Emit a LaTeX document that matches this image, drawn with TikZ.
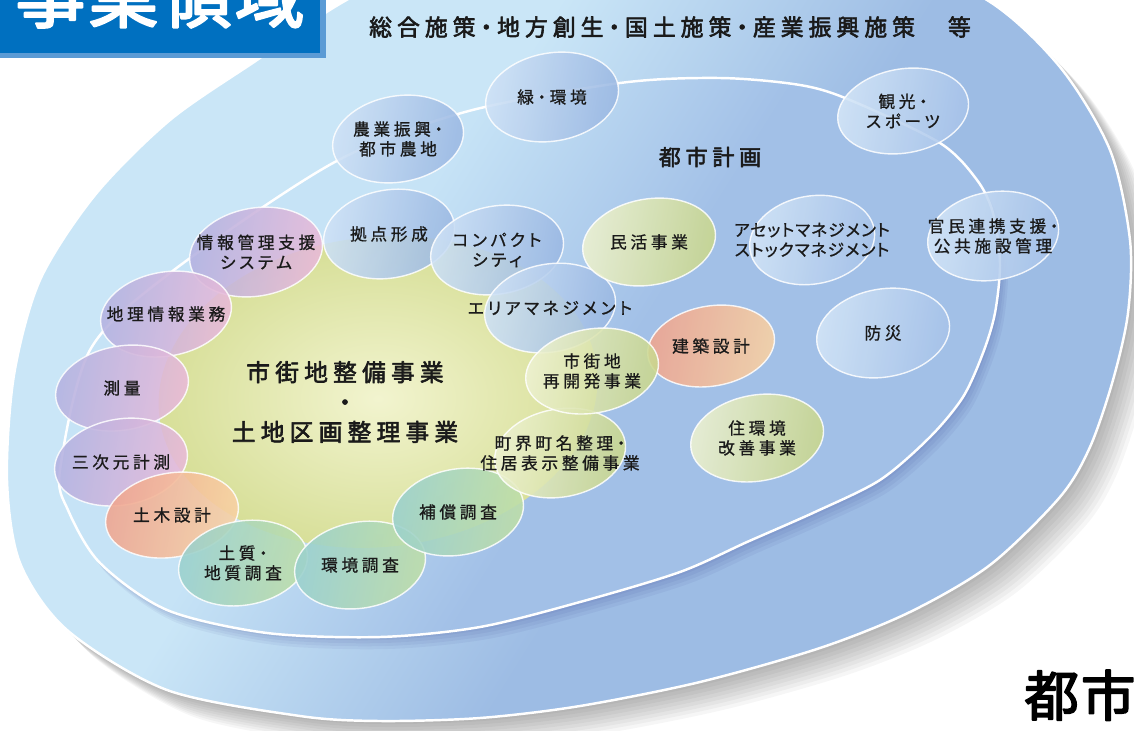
\documentclass[tikz,border=0pt]{standalone}
\usepackage{fontspec}
\newfontfamily\jpfont[LetterSpace=22,RawFeature=+palt,FakeBold=0.9]{Noto Sans CJK JP}
\newfontfamily\jptight[LetterSpace=6,RawFeature=+palt,FakeBold=0.9]{Noto Sans CJK JP}
\newfontfamily\jpbold[LetterSpace=22,RawFeature=+palt,AutoFakeBold=2.5]{Noto Sans CJK JP}
\newfontfamily\jphead[LetterSpace=4,AutoFakeBold=3]{Noto Sans CJK JP}
\definecolor{ringL}{HTML}{CAE6F7}
\definecolor{ringR}{HTML}{9DBCE4}
\definecolor{cityL}{HTML}{C6E3F6}
\definecolor{cityR}{HTML}{A2C0E7}
\definecolor{yelC}{HTML}{F2F4CF}
\definecolor{yelE}{HTML}{D6DE96}
\definecolor{bluL}{HTML}{CFE2F6}
\definecolor{bluR}{HTML}{99B7E2}
\definecolor{glsL}{HTML}{D4E6F7}
\definecolor{glsR}{HTML}{A6C2E9}
\definecolor{pnkL}{HTML}{B3B2E1}
\definecolor{pnkR}{HTML}{EBBAD8}
\definecolor{orgL}{HTML}{F0A48F}
\definecolor{orgR}{HTML}{F9D3A4}
\definecolor{ygnL}{HTML}{EEF2D2}
\definecolor{ygnR}{HTML}{C8D68B}
\definecolor{tealL}{HTML}{99D0CF}
\definecolor{tealR}{HTML}{C0DFA6}
\definecolor{boxblue}{HTML}{0070C0}
\definecolor{boxedge}{HTML}{5B9BD5}
\definecolor{ink}{HTML}{1A1A1A}
\pgfdeclarehorizontalshading{outershade}{100bp}{color(0bp)=(ringL); color(41bp)=(ringL); color(57bp)=(ringR); color(100bp)=(ringR)}
\pgfdeclarehorizontalshading{cityshade}{100bp}{color(0bp)=(cityL); color(39bp)=(cityL); color(55bp)=(cityR); color(100bp)=(cityR)}
\pgfdeclarelayer{ground}
\pgfsetlayers{ground,main}
% outlines of the two big areas (pixel units, y downwards)
\newcommand\outerring{plot[smooth cycle] coordinates {(7,480) (14,375) (40,280) (95,195) (170,120) (257,60) (343,2) (450,-50) (660,-75) (870,-48) (987,0) (1060,67) (1110,150) (1130,240) (1128,313) (1113,380) (1090,447) (1060,497) (990,565) (910,612) (820,648) (700,682) (580,706) (480,718) (380,721) (300,716) (167,690) (67,630) (20,563)}}
\newcommand\cityring{plot[smooth cycle] coordinates {(60,470) (90,350) (170,273) (333,163) (465,112) (620,83) (720,78) (800,85) (850,100) (940,143) (977,180) (993,213) (1000,263) (995,313) (983,353) (963,397) (930,437) (880,480) (815,512) (747,542) (680,572) (580,602) (480,627) (380,637) (267,633) (167,610) (100,563) (68,510)}}
\begin{document}
\begin{tikzpicture}[x=0.02cm, y=-0.02cm, line join=round,
  lbl/.style={font=\jpfont\fontsize{9.5}{11.3}\selectfont, text=ink, align=center, inner sep=0pt},
  head/.style={font=\jpbold\bfseries\fontsize{13}{15}\selectfont, text=ink, inner sep=0pt},
  keikaku/.style={font=\jpbold\bfseries\fontsize{12.5}{15}\selectfont, text=ink, inner sep=0pt},
  big/.style={font=\jpbold\bfseries\fontsize{13.5}{17}\selectfont, text=ink, align=center, inner sep=0pt},
  bubble/.style={left color=#1L, right color=#1R, shading angle=80, draw=white, draw opacity=0.85, line width=0.8pt, fill opacity=0.88}]
\useasboundingbox (0,0) rectangle (1134,731);

% title
\fill[boxedge] (0,-5) rectangle (326,58);
\fill[boxblue] (0,-5) rectangle (320,53);
\node[font=\jphead\bfseries\fontsize{40}{40}\selectfont, text=white, anchor=base] (title) at (160,22) {事業領域};
\node[font=\jphead\bfseries\fontsize{31}{31}\selectfont, text=black, anchor=base] (toshi) at (1080,716) {都市};

\node[head] (sougou) at (670,27) {総合施策・地方創生・国土施策・産業振興施策　等};
\node[keikaku] (toshikeikaku) at (710,157) {都市計画};

\node[lbl] (midori) at (552,97) {緑・環境};
\node[lbl] (nougyo) at (398,139) {農業振興・\\都市農地};
\node[lbl] (kanko) at (903,111) {観光・\\スポーツ};
\node[lbl] (johokanri) at (256,252) {情報管理支援\\システム};
\node[lbl] (kyoten) at (389,234) {拠点形成};
\node[lbl] (compact) at (497,250) {コンパクト\\シティ};
\node[lbl] (minkatsu) at (649,242) {民活事業};
\node[lbl, font=\jptight\fontsize{9.5}{11.3}\selectfont] (asset) at (812,240) {アセットマネジメント\\ストックマネジメント};
\node[lbl] (kanmin) at (993,236) {官民連携支援・\\公共施設管理};
\node[lbl] (chiri) at (166,314) {地理情報業務};
\node[lbl] (area) at (550,308) {エリアマネジメント};
\node[lbl] (bousai) at (883,333) {防災};
\node[lbl] (kenchiku) at (711,346) {建築設計};
\node[lbl] (saikai) at (592,371) {市街地\\再開発事業};
\node[big] (seibi) at (345,402) {市街地整備事業\\・\\土地区画整理事業};
\node[lbl] (sokuryo) at (122,388) {測量};
\node[lbl] (choukai) at (560,453) {町界町名整理・\\住居表示整備事業};
\node[lbl] (jukankyo) at (757,438) {住環境\\改善事業};
\node[lbl] (sanjigen) at (121,462) {三次元計測};
\node[lbl] (doboku) at (172,515) {土木設計};
\node[lbl] (hosho) at (458,512) {補償調査};
\node[lbl] (doshitsu) at (243,563) {土質・\\地質調査};
\node[lbl] (kankyo) at (360,565) {環境調査};

\begin{pgfonlayer}{ground}
  \fill[white] (0,0) rectangle (1134,731);
  % soft shadows
  \foreach \k in {1,...,9}
    \fill[black, opacity=0.035, shift={(3*\k,3*\k)}] \outerring;
  \shadedraw[shading=outershade, shading angle=-32, draw=white, line width=1.4pt] \outerring;
  \foreach \k in {1,...,4}
    \fill[blue!40!black, opacity=0.045, shift={(2*\k,3*\k)}] \cityring;
  \shadedraw[shading=cityshade, shading angle=-32, draw=white, line width=1.4pt] \cityring;
  \shade[inner color=yelC, outer color=yelE, rotate around={6:(378,392)}] (378,392) ellipse [x radius=220, y radius=155];
  % bubbles
  \foreach \n/\sch/\rx/\ry in {johokanri/pnk/67/44, chiri/pnk/66/42, sokuryo/pnk/67/42, sanjigen/pnk/67/43,
      doboku/org/67/42, doshitsu/teal/65/42, kankyo/teal/66/43, hosho/teal/66/43, choukai/ygn/66/44,
      kyoten/blu/66/44, compact/blu/67/44, area/blu/66/44, kenchiku/org/64/40, saikai/ygn/67/42,
      nougyo/blu/66/43, midori/blu/67/44, minkatsu/ygn/67/43, asset/gls/63/44, kanmin/gls/66/44,
      kanko/gls/66/42, bousai/gls/67/44, jukankyo/ygn/67/43}
    \shadedraw[bubble=\sch, rotate around={10:(\n.center)}] (\n.center) ellipse [x radius=\rx, y radius=\ry];
\end{pgfonlayer}
\end{tikzpicture}
\end{document}
